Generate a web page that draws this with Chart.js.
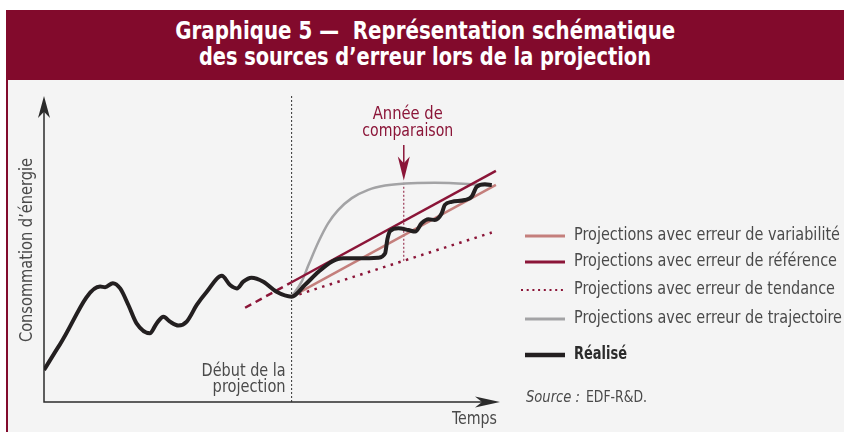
<!DOCTYPE html>
<html lang="fr">
<head>
<meta charset="utf-8">
<title>Graphique 5</title>
<script src="https://cdn.jsdelivr.net/npm/chart.js@4.4.1/dist/chart.umd.min.js"></script>
<style>
  html, body { margin: 0; padding: 0; background: #fff; }
  #page { position: relative; width: 844px; height: 432px; overflow: hidden; }
  #header { position: absolute; left: 6px; top: 10px; width: 838px; height: 70px; background: #820a2c; color: #fff; }
  #header div { position: absolute; left: 0; width: 100%; text-align: center; line-height: 26px; white-space: pre;
    font: bold 24px "Liberation Sans Narrow", "DejaVu Sans Condensed", "Open Sans", sans-serif; }
  #header span { display: inline-block; transform-origin: center; }
  #panel { position: absolute; left: 6px; top: 80px; width: 836px; height: 352px; background: #f4f4f4; border-left: 2px solid #820a2c; }
  #chart { position: absolute; left: 0; top: 0; }
</style>
</head>
<body>
<div id="page">
  <div id="header">
    <div style="top:7px"><span id="t1">Graphique 5 —  Représentation schématique</span></div>
    <div style="top:33px"><span id="t2">des sources d’erreur lors de la projection</span></div>
  </div>
  <div id="panel"></div>
  <canvas id="chart" width="844" height="432"></canvas>
</div>
<script>
// schematic units: time 0-100, consumption 0-100
const realiseX = [0, 3.5, 12.3, 13.4, 15.1, 16.7, 18.5, 20.3, 23.2, 24.7, 26.2, 27.6, 29.5, 31.3, 33.5, 35.7, 39.0, 40.8, 42.3, 43.7,
  45.5, 48.1, 51.0, 54.3, 57.2, 60.2, 63.1, 65.6, 69.7, 73.3, 74.8, 75.3, 75.9, 77.7, 79.9, 81.4, 82.8, 84.3, 85.7, 87.2, 87.9,
  89.4, 92.3, 93.8, 94.9, 96.7, 98.2];
const realiseY = [10.4, 18.8, 37.6, 37.4, 38.7, 37.0, 31.6, 25.6, 22.4, 25.6, 27.8, 26.2, 24.9, 26.2, 31.6, 35.9, 41.1, 38.1, 37.0, 39.2,
  40.5, 39.2, 35.9, 34.3, 38.1, 42.4, 45.7, 46.8, 46.8, 47.0, 48.4, 53.0, 55.7, 56.6, 56.0, 55.5, 58.2, 59.5, 59.3, 61.4, 64.2,
  65.2, 65.8, 66.9, 70.1, 70.9, 70.7];

const trajectoireX = [54.3, 56.5, 58.0, 60.2, 62.3, 64.5, 67.5, 71.1, 74.8, 79.2, 85.7, 93.0, 98.2];
const trajectoireY = [34.3, 39.2, 44.6, 52.2, 58.2, 62.5, 66.4, 69.1, 70.5, 71.2, 71.4, 71.0, 70.4];

const referenceX = [44.1, 54.3, 99.1];
const referenceY = [30.7, 39.0, 75.3];

const variabiliteX = [54.3, 99.1];
const variabiliteY = [34.3, 70.7];

const tendanceX = [54.3, 98.2];
const tendanceY = [34.3, 55.2];

const debutProjection = 54.3;
const anneeComparaison = 78.9;
const comparaisonY = [46.0, 71.8];

const legendLabels = [
  'Projections avec erreur de variabilité',
  'Projections avec erreur de référence',
  'Projections avec erreur de tendance',
  'Projections avec erreur de trajectoire',
  'Réalisé'
];

const CRIMSON = '#8b1538';
const TEXT = '#4a4a4a';
const FONT = '"Liberation Sans Narrow", "DejaVu Sans Condensed", "Open Sans", sans-serif';

const pts = (xs, ys) => xs.map((x, i) => ({ x: x, y: ys[i] }));

// squeeze/stretch text to the width it has in the original
function fitText(ctx, text, x, y, width, align) {
  const w = ctx.measureText(text).width;
  ctx.save();
  ctx.translate(x, y);
  ctx.scale(width / w, 1);
  ctx.textAlign = align;
  ctx.textBaseline = 'middle';
  ctx.fillText(text, 0, 0);
  ctx.restore();
}

function arrowHead(ctx, tx, ty, dx, dy, len, half) {
  const bx = tx - dx * len, by = ty - dy * len;
  const nx = tx - dx * len * 0.72, ny = ty - dy * len * 0.72;
  ctx.beginPath();
  ctx.moveTo(tx, ty);
  ctx.lineTo(bx - dy * half, by + dx * half);
  ctx.lineTo(nx, ny);
  ctx.lineTo(bx + dy * half, by - dx * half);
  ctx.closePath();
  ctx.fill();
}

const decor = {
  id: 'decor',
  beforeDatasetsDraw(chart) {
    const { ctx, chartArea: a } = chart;
    ctx.save();
    ctx.strokeStyle = '#2b2b2b';
    ctx.fillStyle = '#2b2b2b';
    ctx.lineWidth = 1.5;
    ctx.beginPath();
    ctx.moveTo(a.left, a.top + 12);
    ctx.lineTo(a.left, a.bottom);
    ctx.lineTo(a.right - 12, a.bottom);
    ctx.stroke();
    arrowHead(ctx, a.left, a.top + 1, 0, -1, 22, 6);
    arrowHead(ctx, a.right, a.bottom, 1, 0, 25, 5.5);
    ctx.restore();
  },
  afterDraw(chart) {
    const { ctx, chartArea: a, scales } = chart;
    ctx.save();

    // axis titles
    ctx.fillStyle = TEXT;
    ctx.font = '17px ' + FONT;
    ctx.save();
    ctx.translate(27.5, 250);
    ctx.rotate(-Math.PI / 2);
    fitText(ctx, 'Consommation d’énergie', 0, 0, 184, 'center');
    ctx.restore();
    fitText(ctx, 'Temps', a.right - 3, 420, 45, 'right');

    // start of projection
    const xd = scales.x.getPixelForValue(debutProjection);
    fitText(ctx, 'Début de la', xd - 6, 372, 84, 'right');
    fitText(ctx, 'projection', xd - 6, 388, 73, 'right');

    // comparison year label + arrow
    const xc = scales.x.getPixelForValue(anneeComparaison);
    const tipY = scales.y.getPixelForValue(comparaisonY[1]) - 1;
    ctx.fillStyle = CRIMSON;
    fitText(ctx, 'Année de', xc + 4, 115, 70, 'center');
    fitText(ctx, 'comparaison', xc + 4, 131.5, 91, 'center');
    ctx.strokeStyle = CRIMSON;
    ctx.lineWidth = 1.5;
    ctx.beginPath();
    ctx.moveTo(xc, 145);
    ctx.lineTo(xc, tipY - 15);
    ctx.stroke();
    arrowHead(ctx, xc, tipY, 0, 1, 24, 6);

    // legend
    const rows = [236, 262, 290, 319, 355];
    const widths = [266, 263, 261, 268, 53];
    const order = [1, 2, 3, 4, 0];
    const lx = a.right + 25;
    rows.forEach((y, i) => {
      const ds = chart.data.datasets[order[i]];
      ctx.save();
      ctx.strokeStyle = ds.borderColor;
      ctx.lineWidth = i === 4 ? 4.5 : (i === 2 ? 2 : 3);
      if (i === 2) ctx.setLineDash([2, 3.7]);
      ctx.beginPath();
      ctx.moveTo(i === 2 ? lx - 4 : lx, y);
      ctx.lineTo(lx + 40, y);
      ctx.stroke();
      ctx.restore();
      ctx.fillStyle = i === 4 ? '#2b2b2b' : TEXT;
      ctx.font = (i === 4 ? 'bold ' : '') + '17px ' + FONT;
      fitText(ctx, legendLabels[i], lx + 49, y, widths[i], 'left');
    });

    // source
    ctx.fillStyle = TEXT;
    ctx.font = 'italic 16px ' + FONT;
    fitText(ctx, 'Source :', lx + 1, 398, 54, 'left');
    ctx.font = '16px ' + FONT;
    fitText(ctx, 'EDF-R&D.', lx + 61, 398, 61, 'left');
    ctx.restore();
  }
};

new Chart(document.getElementById('chart'), {
  type: 'line',
  data: {
    datasets: [
      { label: 'Réalisé', data: pts(realiseX, realiseY), borderColor: '#231f20', borderWidth: 4,
        cubicInterpolationMode: 'monotone', order: 1 },
      { label: legendLabels[0], data: pts(variabiliteX, variabiliteY), borderColor: '#c47f7c', borderWidth: 2.5, order: 3 },
      { label: legendLabels[1], data: pts(referenceX, referenceY), borderColor: CRIMSON, borderWidth: 2.5, order: 2,
        segment: { borderDash: c => c.p0DataIndex === 0 ? [7, 5] : undefined } },
      { label: legendLabels[2], data: pts(tendanceX, tendanceY), borderColor: CRIMSON, borderWidth: 2.5,
        borderDash: [2.5, 5.5], order: 5 },
      { label: legendLabels[3], data: pts(trajectoireX, trajectoireY), borderColor: '#a3a3a5', borderWidth: 2.5,
        cubicInterpolationMode: 'monotone', order: 4 },
      { label: 'debut', data: [{ x: debutProjection, y: 0 }, { x: debutProjection, y: 100 }],
        borderColor: '#333', borderWidth: 1, borderDash: [2, 2], order: 6 },
      { label: 'comparaison', data: [{ x: anneeComparaison, y: comparaisonY[0] }, { x: anneeComparaison, y: comparaisonY[1] }],
        borderColor: CRIMSON, borderWidth: 1, borderDash: [2, 2], order: 6 }
    ]
  },
  options: {
    responsive: false,
    animation: false,
    devicePixelRatio: 1,
    layout: { padding: { left: 44, right: 344, top: 95, bottom: 30 } },
    elements: { point: { radius: 0, hoverRadius: 0 } },
    scales: {
      x: { type: 'linear', min: 0, max: 100, display: false },
      y: { type: 'linear', min: 0, max: 100, display: false }
    },
    plugins: { legend: { display: false }, tooltip: { enabled: false } }
  },
  plugins: [decor]
});

// fit title lines to their original widths
[['t1', 500], ['t2', 452]].forEach(([id, w]) => {
  const el = document.getElementById(id);
  el.style.transform = 'scaleX(' + (w / el.getBoundingClientRect().width) + ')';
});
</script>
</body>
</html>
